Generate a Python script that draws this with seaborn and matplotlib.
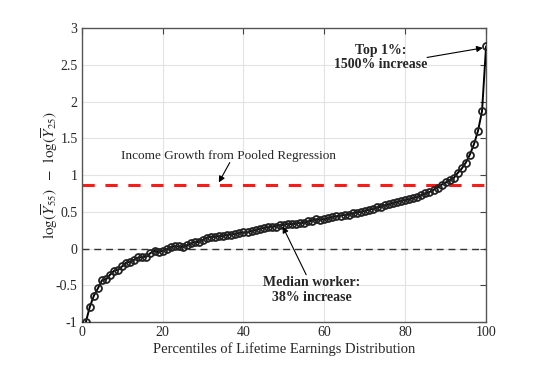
import numpy as np
import pandas as pd
import seaborn as sns
import matplotlib.pyplot as plt
from matplotlib.ticker import FormatStrFormatter

# percentile-wise income growth
percentiles = list(range(1, 101))
growth = [
    -1.00, -0.79, -0.64, -0.54, -0.43, -0.42, -0.355, -0.30, -0.29, -0.24,
    -0.19, -0.18, -0.15, -0.12, -0.115, -0.11, -0.06, -0.03, -0.05, -0.03,
    -0.01, 0.02, 0.03, 0.03, 0.02, 0.045, 0.07, 0.09, 0.09, 0.12,
    0.15, 0.16, 0.16, 0.17, 0.17, 0.19, 0.19, 0.20, 0.21, 0.22,
    0.22, 0.24, 0.25, 0.27, 0.28, 0.29, 0.30, 0.30, 0.32, 0.32,
    0.34, 0.33, 0.34, 0.35, 0.35, 0.37, 0.38, 0.40, 0.39, 0.40,
    0.41, 0.43, 0.44, 0.45, 0.46, 0.46, 0.48, 0.49, 0.50, 0.51,
    0.53, 0.54, 0.56, 0.57, 0.59, 0.60, 0.62, 0.63, 0.65, 0.66,
    0.67, 0.69, 0.70, 0.73, 0.75, 0.77, 0.80, 0.83, 0.87, 0.90,
    0.93, 0.96, 1.03, 1.09, 1.17, 1.28, 1.42, 1.60, 1.87, 2.75,
]
pooled_growth = 0.86

df = pd.DataFrame({'pct': percentiles, 'growth': growth})

sns.set_style('white')
plt.rcParams['font.family'] = ['Liberation Serif', 'DejaVu Serif']
plt.rcParams['mathtext.fontset'] = 'stix'
plt.rcParams['axes.unicode_minus'] = False

fig = plt.figure(figsize=(5.6, 3.69), dpi=100)
ax = fig.add_axes([0.146, 0.127, 0.722, 0.797])

ax.grid(True, color='#e3e3e3', linewidth=0.8)
ax.set_axisbelow(True)

ax.axhline(0, color='#333333', linestyle=(0, (5, 3.5)), linewidth=1.0, zorder=2)
ax.axhline(pooled_growth, color='#ff1a1a', linestyle=(0, (4, 3.5)), linewidth=2.2, zorder=2)

sns.lineplot(data=df, x='pct', y='growth', ax=ax, color='black', linewidth=1.4,
             marker='o', markersize=5, markerfacecolor='none',
             markeredgecolor='#222222', markeredgewidth=1.3, zorder=3)

ax.set_xlim(0, 100)
ax.set_ylim(-1, 3)
ax.set_xticks(range(0, 101, 20))
ax.set_yticks(np.arange(-1, 3.01, 0.5))
ax.yaxis.set_major_formatter(FormatStrFormatter('%g'))
ax.tick_params(direction='in', length=4, labelsize=10, top=True, right=True,
               color='#444444', pad=3)
for s in ax.spines.values():
    s.set_color('#555555')
    s.set_linewidth(1.0)

ax.set_xlabel('Percentiles of Lifetime Earnings Distribution', fontsize=10.5, labelpad=2)
ax.set_ylabel(r'$\mathrm{log}(\overline{Y}_{55})\;\;-\;\;\mathrm{log}(\overline{Y}_{25})$',
              fontsize=11)
# the label sits tight against the tick labels, as in the original
ax.yaxis.set_label_coords(-0.055, 0.5)

# annotations: text and arrow drawn separately
arrow = dict(arrowstyle='-|>', color='black', lw=0.8, mutation_scale=9,
             shrinkA=0, shrinkB=0)
ax.text(74, 2.6, 'Top 1%:\n1500% increase', ha='center', va='center',
        fontsize=10, fontweight='bold', linespacing=1.15)
ax.annotate('', xy=(99.2, 2.73), xytext=(85.4, 2.6), arrowprops=arrow)

ax.text(36.4, 1.26, 'Income Growth from Pooled Regression', ha='center', va='center',
        fontsize=9.5)
ax.annotate('', xy=(33.9, 0.90), xytext=(36.6, 1.17), arrowprops=arrow)

ax.text(56.8, -0.56, 'Median worker:\n38% increase', ha='center', va='center',
        fontsize=10, fontweight='bold', linespacing=1.15)
ax.annotate('', xy=(49.7, 0.30), xytext=(55.5, -0.355), arrowprops=arrow)

fig.savefig('out.png', dpi=100)
